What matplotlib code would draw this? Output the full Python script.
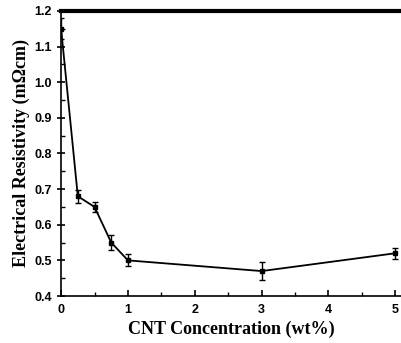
import numpy as np
import matplotlib.pyplot as plt
from matplotlib.ticker import MultipleLocator

cnt = [0, 0.25, 0.5, 0.75, 1, 3, 5]
rho = [1.15, 0.68, 0.65, 0.55, 0.50, 0.47, 0.52]
err = [0.03, 0.018, 0.014, 0.02, 0.017, 0.025, 0.016]
yticks = [0.4, 0.5, 0.6, 0.7, 0.8, 0.9, 1.0, 1.1, 1.2]
xticks = [0, 1, 2, 3, 4, 5]

fig = plt.figure(figsize=(4.02, 3.43), dpi=100)
ax = fig.add_axes([0.152, 0.137, 0.848, 0.831])

ax.errorbar(cnt, rho, yerr=err, color='black', lw=1.3, marker='s', ms=3.5,
            capsize=2.5, elinewidth=1.0, capthick=1.0)

ax.set_xlim(0, 5.1)
ax.set_ylim(0.4, 1.2)
ax.xaxis.set_minor_locator(MultipleLocator(0.5))
ax.yaxis.set_minor_locator(MultipleLocator(0.05))

ax.spines['right'].set_visible(False)
ax.spines['top'].set_linewidth(3)
ax.spines['left'].set_linewidth(1.2)
ax.spines['bottom'].set_linewidth(1.2)
ax.tick_params(axis='y', which='major', direction='inout', length=6, width=1.2)
ax.tick_params(axis='x', which='major', direction='in', length=4, width=1.2, pad=6)
ax.tick_params(which='minor', direction='in', length=3, width=1.0)
ax.tick_params(top=False, right=False)

ax.set_yticks(yticks)
ax.set_yticklabels(['%.1f' % v for v in yticks],
                   fontfamily='Liberation Sans', fontweight='bold', fontsize=9)
ax.set_xticks(xticks)
ax.set_xticklabels([str(v) for v in xticks],
                   fontfamily='Liberation Sans', fontweight='bold', fontsize=9)

ax.set_xlabel('CNT Concentration (wt%)', fontfamily='Liberation Serif',
              fontweight='bold', fontsize=13, labelpad=3)
ax.set_ylabel('Electrical Resistivity (m\u03a9cm)', fontfamily='Liberation Serif',
              fontweight='bold', fontsize=13, labelpad=3)

fig.savefig('out.png', dpi=100)
